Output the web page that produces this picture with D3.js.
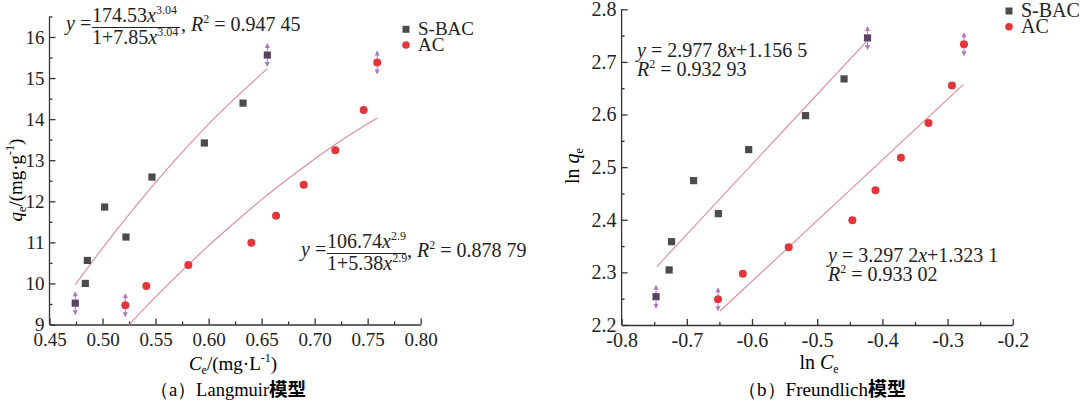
<!DOCTYPE html>
<html>
<head>
<meta charset="utf-8">
<title>Langmuir / Freundlich</title>
<script src="https://cdn.jsdelivr.net/npm/d3@7"></script>
<style>
    body{ margin:0; background:#fff; }
    svg{ display:block; }
    svg text{ font-family:"Liberation Serif","Times New Roman",Times,"DejaVu Serif",serif; }
    .axis path, .axis line{ stroke:#333; stroke-width:1.3; }
    .axis text{ fill:#222; }
    .cjk{ font-family:"Noto Sans CJK SC",sans-serif; font-weight:bold; }
</style>
</head>
<body>
<script>
// (a) Langmuir
var langSbacX = [0.4743,0.4838,0.4857,0.502,0.5221,0.5466,0.596,0.6325,0.6554]
var langSbacY = [9.52,10.00,10.56,11.86,11.13,12.59,13.42,14.39,15.56]
var langAcX = [0.5215,0.5413,0.5809,0.6403,0.6636,0.6897,0.7195,0.7462,0.759]
var langAcY = [9.47,9.94,10.45,10.99,11.65,12.40,13.24,14.22,15.38]
var langSbacFitX = [0.4743,0.50,0.525,0.55,0.575,0.60,0.625,0.6554]
var langSbacFitY = [9.97,10.86,11.68,12.46,13.19,13.88,14.51,15.23]
var langAcFitX = [0.5215,0.55,0.575,0.60,0.625,0.65,0.675,0.70,0.725,0.759]
var langAcFitY = [8.90,9.67,10.31,10.92,11.49,12.04,12.55,13.03,13.48,14.03]
var langXTicks = [0.45,0.50,0.55,0.60,0.65,0.70,0.75,0.80]
var langYTicks = [9,10,11,12,13,14,15,16]

// (b) Freundlich
var freuSbacX = [-0.7472,-0.7271,-0.7234,-0.6896,-0.6516,-0.6051,-0.5179,-0.4588,-0.4228]
var freuSbacY = [2.2538,2.3046,2.3584,2.4744,2.4116,2.5333,2.5979,2.6677,2.7456]
var freuAcX = [-0.6521,-0.6141,-0.5437,-0.4461,-0.4106,-0.3716,-0.3293,-0.2933,-0.2749]
var freuAcY = [2.2488,2.2976,2.3477,2.399,2.456,2.518,2.584,2.655,2.7336]
var freuSbacFitX = [-0.746,-0.425]
var freuSbacFitY = [2.311,2.738]
var freuAcFitX = [-0.649,-0.276]
var freuAcFitY = [2.2266,2.6568]
var freuXTicks = [-0.8,-0.7,-0.6,-0.5,-0.4,-0.3,-0.2]
var freuYTicks = [2.2,2.3,2.4,2.5,2.6,2.7,2.8]

var W = 1080, H = 402
var sqColor = "#4b4b4b", ciColor = "#e3363b", fitColor = "#dc8c95", maskColor = "#a65bb8"

var svg = d3.select("body").append("svg").attr("width", W).attr("height", H)

function zip(a, b){ return a.map(function(v,i){ return [v, b[i]] }) }

function panel(o){
    var g = svg.append("g")
    var x = d3.scaleLinear().domain(o.xDomain).range(o.xRange)
    var y = d3.scaleLinear().domain(o.yDomain).range(o.yRange)

    var clipId = "clip" + o.id
    g.append("clipPath").attr("id", clipId).append("rect")
        .attr("x", o.xRange[0]).attr("y", y(o.yTop))
        .attr("width", o.xRange[1]-o.xRange[0]).attr("height", o.yRange[0]-y(o.yTop))

    // minor ticks
    g.append("g").attr("class","axis")
        .attr("transform","translate(0,"+o.yRange[0]+")")
        .call(d3.axisBottom(x).tickValues(o.xMinor).tickSize(-3).tickFormat(""))
        .select(".domain").remove()
    g.append("g").attr("class","axis")
        .attr("transform","translate("+o.xRange[0]+",0)")
        .call(d3.axisLeft(y).tickValues(o.yMinor).tickSize(-3).tickFormat(""))
        .select(".domain").remove()

    var xa = g.append("g").attr("class","axis")
        .attr("transform","translate(0,"+o.yRange[0]+")")
        .call(d3.axisBottom(x).tickValues(o.xTicks).tickSize(-6).tickSizeOuter(0).tickPadding(8).tickFormat(o.xFmt))
    xa.selectAll("text").attr("dy","0.71em").style("font-size", o.fs+"px")
    var ya = g.append("g").attr("class","axis")
        .attr("transform","translate("+o.xRange[0]+",0)")
        .call(d3.axisLeft(y).tickValues(o.yTicks).tickSize(-6).tickSizeOuter(0).tickPadding(5).tickFormat(o.yFmt))
    ya.selectAll("text").style("font-size", o.fs+"px")
    ya.select(".domain").attr("d","M0,"+o.yRange[0]+"V"+y(o.yTop))

    var line = d3.line().x(function(d){return x(d[0])}).y(function(d){return y(d[1])}).curve(d3.curveMonotoneX)
    var plot = g.append("g").attr("clip-path","url(#"+clipId+")")
    o.fits.forEach(function(f){
        plot.append("path").datum(zip(f[0], f[1]))
            .attr("d", line).attr("fill","none").attr("stroke", fitColor).attr("stroke-width",1.1)
    })

    var sb = zip(o.sX, o.sY), ac = zip(o.aX, o.aY)
    g.selectAll(".sq"+o.id).data(sb).enter().append("rect")
        .attr("x", function(d){return x(d[0])-3.6}).attr("y", function(d){return y(d[1])-3.6})
        .attr("width",7.2).attr("height",7.2)
        .attr("fill", function(d,i){ return (i==0||i==sb.length-1) ? "#5a4462" : sqColor })
    g.selectAll(".ci"+o.id).data(ac).enter().append("circle")
        .attr("cx", function(d){return x(d[0])}).attr("cy", function(d){return y(d[1])})
        .attr("r",4).attr("fill", ciColor)

    // masked end points
    var masked = [sb[0], sb[sb.length-1], ac[0], ac[ac.length-1]]
    masked.forEach(function(d){
        var cx = x(d[0]), cy = y(d[1])
        var m = g.append("g").attr("fill", maskColor).attr("stroke", maskColor).attr("opacity",0.85)
        m.append("line").attr("x1",cx).attr("x2",cx).attr("y1",cy-11).attr("y2",cy-4).attr("stroke-width",1)
        m.append("line").attr("x1",cx).attr("x2",cx).attr("y1",cy+4).attr("y2",cy+11).attr("stroke-width",1)
        m.append("path").attr("stroke","none").attr("d","M"+cx+","+(cy-12)+"l-2.5,5h5z")
        m.append("path").attr("stroke","none").attr("d","M"+cx+","+(cy+12)+"l-2.5,-5h5z")
    })

    // legend
    var lg = g.append("g").attr("font-size",o.fs).attr("fill","#222")
    lg.append("rect").attr("x",o.legX-3.5).attr("y",o.legY-3.5).attr("width",7).attr("height",7).attr("fill",sqColor)
    lg.append("text").attr("x",o.legX+12).attr("y",o.legY+6).text("S-BAC")
    lg.append("circle").attr("cx",o.legX).attr("cy",o.legY+15.7).attr("r",3.8).attr("fill",ciColor)
    lg.append("text").attr("x",o.legX+12).attr("y",o.legY+22).text("AC")
    return g
}

var ga = panel({ id:"a", fs:19,
    xDomain:[0.45,0.80], xRange:[49.5,420.7], yDomain:[9,16], yRange:[324.5,37], yTop:16.5,
    xTicks:langXTicks, yTicks:langYTicks,
    xMinor:d3.range(0.475,0.80,0.05), yMinor:d3.range(9.5,16.6,1),
    xFmt:d3.format(".2f"), yFmt:d3.format("d"),
    sX:langSbacX, sY:langSbacY, aX:langAcX, aY:langAcY,
    fits:[[langSbacFitX,langSbacFitY],[langAcFitX,langAcFitY]],
    legX:406, legY:29.3 })

var gb = panel({ id:"b", fs:20,
    xDomain:[-0.8,-0.2], xRange:[621.6,1012.8], yDomain:[2.2,2.8], yRange:[325,9.3], yTop:2.8,
    xTicks:freuXTicks, yTicks:freuYTicks,
    xMinor:d3.range(-0.75,-0.2,0.1), yMinor:d3.range(2.25,2.8,0.1),
    xFmt:function(d){ return d3.format(".1f")(d).replace("−","-") }, yFmt:d3.format(".1f"),
    sX:freuSbacX, sY:freuSbacY, aX:freuAcX, aY:freuAcY,
    fits:[[freuSbacFitX,freuSbacFitY],[freuAcFitX,freuAcFitY]],
    legX:1009, legY:11 })

// equations (a)
function fracEq(x0, yBase, num, numExp, den, denExp, r2, lineW){
    var e = svg.append("g").attr("font-size",20).attr("fill","#222")
    e.append("text").attr("x",x0).attr("y",yBase).html('<tspan font-style="italic">y</tspan> =')
    var fx = x0 + 26
    var n = e.append("text").attr("x",fx).attr("y",yBase-8)
    n.append("tspan").text(num)
    n.append("tspan").attr("font-style","italic").text("x")
    n.append("tspan").attr("font-size",12).attr("dy",-8).text(numExp)
    var d = e.append("text").attr("x",fx).attr("y",yBase+14.5)
    d.append("tspan").text(den)
    d.append("tspan").attr("font-style","italic").text("x")
    d.append("tspan").attr("font-size",12).attr("dy",-8).text(denExp)
    e.append("line").attr("x1",fx).attr("x2",fx+lineW).attr("y1",yBase-2).attr("y2",yBase-2)
        .attr("stroke","#222").attr("stroke-width",1)
    var r = e.append("text").attr("x",fx+lineW+1).attr("y",yBase+1)
    r.append("tspan").text(", ")
    r.append("tspan").attr("font-style","italic").text("R")
    r.append("tspan").attr("font-size",12).attr("dy",-8).text("2")
    r.append("tspan").attr("dy",8).text(" = " + r2)
}
fracEq(66, 29.5, "174.53", "3.04", "1+7.85", "3.04", "0.947 45", 88)
fracEq(301, 255.5, "106.74", "2.9", "1+5.38", "2.9", "0.878 79", 79)

// equations (b)
function linEq(x0, yBase, a, b, r2){
    var e = svg.append("g").attr("font-size",20).attr("fill","#222")
    e.append("text").attr("x",x0).attr("y",yBase)
        .html('<tspan font-style="italic">y</tspan> = ' + a + '<tspan font-style="italic">x</tspan>+' + b)
    var r = e.append("text").attr("x",x0).attr("y",yBase+19)
    r.append("tspan").attr("font-style","italic").text("R")
    r.append("tspan").attr("font-size",12).attr("dy",-8).text("2")
    r.append("tspan").attr("dy",8).text(" = " + r2)
}
linEq(637, 57, "2.977 8", "1.156 5", "0.932 93")
linEq(828, 262, "3.297 2", "1.323 1", "0.933 02")

// axis titles
var t1 = svg.append("text").attr("font-size",19).attr("text-anchor","middle")
    .attr("transform","translate(22,180) rotate(-90)")
t1.append("tspan").attr("font-style","italic").text("q")
t1.append("tspan").attr("font-size",12).attr("dy",4).text("e")
t1.append("tspan").attr("dy",-4).text("/(mg·g")
t1.append("tspan").attr("font-size",12).attr("dy",-8).text("-1")
t1.append("tspan").attr("dy",8).text(")")

var t2 = svg.append("text").attr("font-size",19).attr("text-anchor","middle").attr("x",233).attr("y",370)
t2.append("tspan").attr("font-style","italic").text("C")
t2.append("tspan").attr("font-size",12).attr("dy",4).text("e")
t2.append("tspan").attr("dy",-4).text("/(mg·L")
t2.append("tspan").attr("font-size",12).attr("dy",-8).text("-1")
t2.append("tspan").attr("dy",8).text(")")

var t3 = svg.append("text").attr("font-size",20).attr("text-anchor","middle")
    .attr("transform","translate(579,166) rotate(-90)")
t3.append("tspan").text("ln ")
t3.append("tspan").attr("font-style","italic").text("q")
t3.append("tspan").attr("font-size",12).attr("dy",4).text("e")

var t4 = svg.append("text").attr("font-size",20).attr("text-anchor","middle").attr("x",819).attr("y",369)
t4.append("tspan").text("ln ")
t4.append("tspan").attr("font-style","italic").text("C")
t4.append("tspan").attr("font-size",12).attr("dy",4).text("e")

// captions
svg.append("text").attr("x",228).attr("y",396).attr("text-anchor","middle").attr("font-size",18.5)
    .html('（a）Langmuir<tspan class="cjk">模型</tspan>')
svg.append("text").attr("x",822).attr("y",396).attr("text-anchor","middle").attr("font-size",19)
    .html('（b）Freundlich<tspan class="cjk">模型</tspan>')
</script>
</body>
</html>
